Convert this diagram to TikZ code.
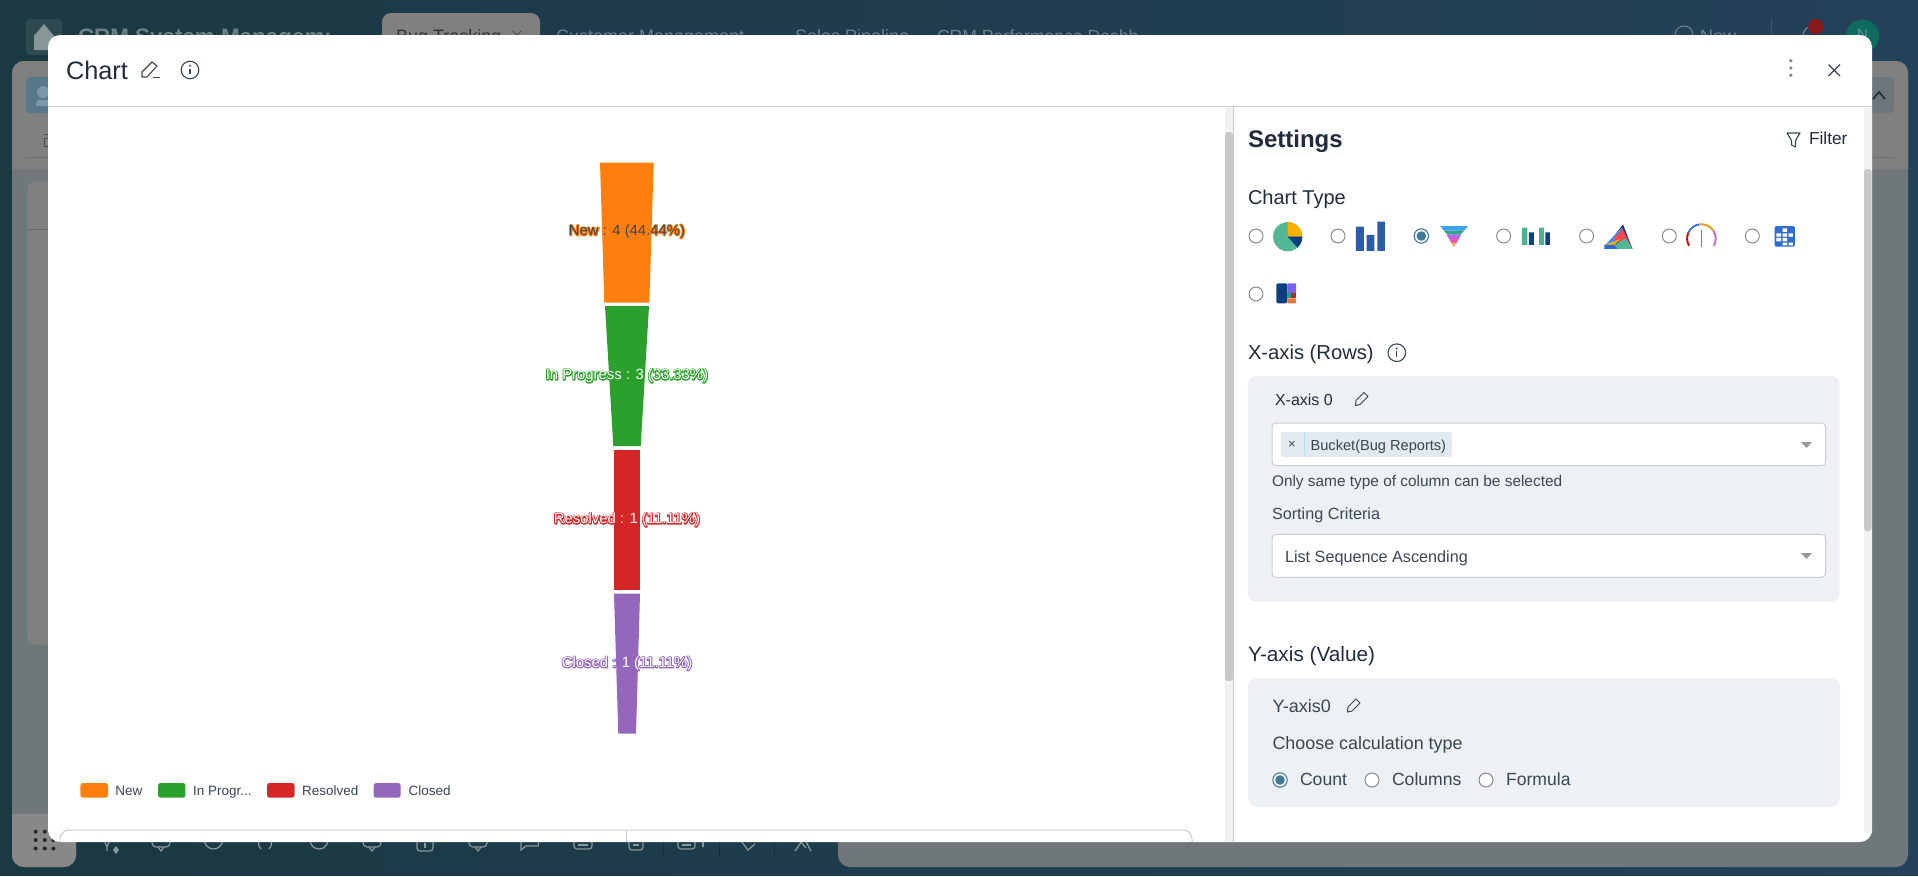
\documentclass[tikz,border=0pt]{standalone}
\usepackage{fontspec}
\setmainfont{Liberation Sans}
\definecolor{ink}{HTML}{212C3E}
\definecolor{body}{HTML}{3B4654}
\definecolor{slate}{HTML}{6F777A}
\definecolor{dimg}{HTML}{808080}
\definecolor{dimh}{HTML}{888888}
\definecolor{lineg}{HTML}{CCCCCC}
\definecolor{boxbg}{HTML}{EEF1F4}
\definecolor{oran}{HTML}{FF7F0E}
\definecolor{gree}{HTML}{2CA02C}
\definecolor{redd}{HTML}{D62728}
\definecolor{purp}{HTML}{9467BD}
\definecolor{radio}{HTML}{3E7A9A}
\definecolor{tool}{HTML}{8A979B}
\definecolor{navy}{HTML}{0B3F80}
\definecolor{bgl}{HTML}{1A3943}
\definecolor{bgr}{HTML}{24415A}
\definecolor{homebox}{HTML}{2F4951}
\definecolor{homeic}{HTML}{879696}
\definecolor{titlec}{HTML}{6E8086}
\definecolor{tabc}{HTML}{69828C}
\definecolor{newc}{HTML}{6E808C}
\definecolor{divc}{HTML}{3C5569}
\definecolor{bellc}{HTML}{7D8C96}
\definecolor{dotred}{HTML}{8A1A1A}
\definecolor{avat}{HTML}{0F6B5E}
\definecolor{avatt}{HTML}{5A96A0}
\definecolor{userbox}{HTML}{56788A}
\definecolor{useric}{HTML}{7D96A5}
\definecolor{rule}{HTML}{6E6E6E}
\definecolor{rulec}{HTML}{696969}
\definecolor{cardl}{HTML}{73787A}
\definecolor{rbox}{HTML}{6D767A}
\definecolor{chev}{HTML}{192D37}
\definecolor{sep}{HTML}{142D37}
\definecolor{track}{HTML}{F1F1F1}
\definecolor{thumb}{HTML}{C8C8C8}
\definecolor{pieg}{HTML}{52B796}
\definecolor{pieo}{HTML}{FBB000}
\definecolor{barb}{HTML}{2A5CA8}
\definecolor{fa}{HTML}{3EA3F2}
\definecolor{fb}{HTML}{2EA38E}
\definecolor{fc}{HTML}{B768EA}
\definecolor{fd}{HTML}{EE5D9E}
\definecolor{fe}{HTML}{F5B16A}
\definecolor{gbg}{HTML}{4BB294}
\definecolor{ta}{HTML}{4A8DF0}
\definecolor{tb}{HTML}{F04A50}
\definecolor{tc}{HTML}{3269D7}
\definecolor{tblb}{HTML}{2F6CD3}
\definecolor{tma}{HTML}{7A5FF0}
\definecolor{tmb}{HTML}{1AA37F}
\definecolor{tmc}{HTML}{B02A2A}
\definecolor{tmd}{HTML}{E8753A}
\definecolor{ga}{HTML}{D40000}
\definecolor{gb}{HTML}{3D6FD8}
\definecolor{gc}{HTML}{EF9A1A}
\definecolor{gd}{HTML}{B86BD8}
\definecolor{ge}{HTML}{3A8FD0}
\definecolor{tagbg}{HTML}{E2E9EF}
\definecolor{tagdiv}{HTML}{BCDCF4}
\definecolor{arrowg}{HTML}{999999}
\newcommand\fs[1]{\fontsize{#1}{#1}\selectfont}
\newcommand\halo[3]{\rlap{\special{pdf:code 1 j 1 Tr 2 w #1 RG}#3\special{pdf:code 0 Tr 0.4 w}}\textcolor{#2}{#3}}
\newcommand\info[2]{\draw[body,line width=1.1pt] (#1,#2) circle (8.8);
 \fill[body] (#1,#2-4.2) circle (1.1); \draw[body,line width=1.3pt] (#1-1.3,#2-0.8) -- (#1,#2-0.8) -- (#1,#2+4);}
\newcommand\rad[2]{\draw[draw=gray,fill=white,line width=0.9pt] (#1,#2) circle (7);}
\newcommand\radon[2]{\draw[draw=radio,fill=white,line width=1.1pt] (#1,#2) circle (7.2);\fill[radio] (#1,#2) circle (4.8);}
\tikzset{
 lb/.style={anchor=base west,inner sep=0pt,outer sep=0pt},
 sel/.style={draw=lineg,fill=white,line width=1pt,rounded corners=4pt},
 card/.style={fill=boxbg,rounded corners=9pt},
 leg/.style={rounded corners=2.5pt},
 ico/.style={draw=tool,line width=1.2pt},
 fun/.style={anchor=center,inner sep=0pt,font=\fs{14.85}}
}
\begin{document}
\begin{tikzpicture}[x=1pt,y=-1pt]
\useasboundingbox (0,0) rectangle (1918,876);
% backdrop
\foreach \p in {0,5,...,95}{
 \fill[bgr!\p!bgl] ({\p*19.18},0) rectangle (1918,876);
}
% top bar
\fill[homebox,rounded corners=4pt] (26,19) rectangle (62,55);
\fill[homeic] (34,36) -- (44,24) -- (54,36) -- (54,50) -- (34,50) -- cycle;
\node[lb,text=titlec,font=\fs{22.4}\bfseries] (apptitle) at (78,44) {CRM System Managem:};
\fill[dimg,rounded corners=9pt] (382,13) rectangle (540,60);
\node[lb,text=black!80,font=\fs{18}] (tabbug) at (396,42) {Bug Tracking};
\draw[black!70,line width=1pt] (513,31) -- (517,35) -- (521,31);
\node[lb,text=tabc,font=\fs{18}] (tabcust) at (556,42) {Customer Management};
\node[lb,text=tabc,font=\fs{18}] (tabsales) at (795,42) {Sales Pipeline};
\node[lb,text=tabc,font=\fs{17.6}] (tabcrm) at (937,42) {CRM Performance Dashb};
\draw[newc,line width=1.1pt] (1684,35) circle (9);
\node[lb,text=newc,font=\fs{18}] (newbtn) at (1700,42) {New};
\draw[divc,line width=0.8pt] (1771,19) -- (1771,38);
\draw[bellc,line width=1.1pt] (1802,38) .. controls (1804,28) and (1808,26) .. (1814,26);
\fill[dotred] (1815.7,26.5) circle (7.5);
\fill[avat] (1862.5,36) circle (16.5);
\node[anchor=center,inner sep=0pt,text=avatt,font=\fs{15}] (avatar) at (1862.5,34) {N};
% dimmed page
\fill[slate,rounded corners=12pt] (12,61) rectangle (76,867);
\fill[slate,rounded corners=12pt] (838,61) rectangle (1908,867);
\fill[dimg] (12,169) [rounded corners=12pt] -- (12,61) -- (76,61) [sharp corners] -- (76,169) -- cycle;
\fill[dimg] (1840,169) -- (1840,61) [rounded corners=12pt] -- (1908,61) [sharp corners] -- (1908,169) -- cycle;
\fill[dimh] (12,814) -- (76,814) [rounded corners=12pt] -- (76,867) -- (12,867) [sharp corners] -- cycle;
\fill[userbox,rounded corners=4pt] (26,77) rectangle (60,113);
\fill[useric] (43,92) circle (6);
\fill[useric] (36,106) -- (37,100) -- (49,100) -- (50,106) -- cycle;
\draw[rule,line width=0.8pt] (26,157) -- (60,157);
\draw[black!70,line width=0.8pt] (44,134) -- (52,134) (44,138) rectangle (52,146);
\fill[dimg,rounded corners=8pt] (27,181) rectangle (80,645);
\draw[rulec,line width=0.8pt] (27,229) -- (60,229);
\draw[cardl,line width=0.6pt,rounded corners=8pt] (27,181) rectangle (80,645);
\fill[rbox,rounded corners=4pt] (1860,77) rectangle (1894,113);
\draw[chev,line width=1.6pt] (1873,99) -- (1879,92) -- (1885,99);
\draw[rule,line width=0.8pt] (1860,157) -- (1894,157);
% toolbar remnants
\fill[black!85] (35.6,831.7) circle (2) (44.8,831.7) circle (2) (35.6,840) circle (2) (44.8,840) circle (2) (53.4,840) circle (2) (35.6,848.5) circle (2) (44.8,848.5) circle (2) (53.4,848.5) circle (2);
\draw[ico] (102,835) -- (107,847) -- (112,835) (107,847) -- (107,851);
\fill[tool] (116,846) -- (119,850) -- (116,854) -- (113,850) -- cycle;
\draw[ico,rounded corners=4pt] (152,832) rectangle (170,847);
\draw[ico] (158,847) -- (161,851) -- (164,847);
\draw[ico] (213.5,840) circle (9);
\draw[ico] (259,840) .. controls (258,845) and (259,847) .. (261,849) (271,840) .. controls (272,845) and (271,847) .. (269,849);
\draw[ico] (319,840) circle (9);
\draw[ico,rounded corners=4pt] (363,832) rectangle (381,847);
\draw[ico] (369,847) -- (372,851) -- (375,847);
\draw[ico,rounded corners=3pt] (417,830) rectangle (433,851);
\draw[ico] (425,843) -- (425,848);
\draw[ico,rounded corners=4pt] (469,832) rectangle (487,847);
\draw[ico] (475,847) -- (478,851) -- (481,847);
\draw[ico] (521,850) -- (521,832) -- (540,832) -- (538,846) -- (526,846) -- cycle;
\draw[ico,rounded corners=3pt] (574,832) rectangle (592,849);
\draw[ico] (578,845) -- (588,845);
\draw[ico,rounded corners=3pt] (629,832) rectangle (643,850);
\draw[ico] (633,845) -- (639,845);
\draw[ico,rounded corners=3pt] (678,832) rectangle (695,849);
\draw[ico] (682,845) -- (691,845) (703,842) -- (703,847);
\draw[ico] (739,838) -- (748,850) -- (755,844);
\draw[ico] (795,851) -- (804,838) -- (811,851) (799,840) -- (806,848);
\draw[sep,line width=1pt] (663,842) -- (663,857) (719,842) -- (719,857) (774,842) -- (774,857);
% modal
\fill[white,rounded corners=12pt] (48,35) rectangle (1872,842);
\draw[lineg,line width=1.2pt] (48,106.7) -- (1872,106.7);
\node[lb,text=ink,font=\fs{25.3}] (charttitle) at (66,79) {Chart};
\draw[body,line width=1.1pt,line join=round] (142,77) -- (142,72) -- (152,62) -- (157,66) -- (147,77) -- cycle;
\draw[body,line width=1.1pt] (153,77.5) -- (160,77.5);
\info{190}{70}
\fill[gray] (1790.8,60.7) circle (1.8) (1790.8,68) circle (1.8) (1790.8,75.3) circle (1.8);
\draw[body,line width=1.3pt] (1828.5,64.5) -- (1840,76) (1840,64.5) -- (1828.5,76);
% scrollbars
\fill[track] (1225,107.5) rectangle (1233,842);
\fill[thumb,rounded corners=3pt] (1225,132) rectangle (1233,681);
\draw[lineg,line width=1pt] (1233.5,107) -- (1233.5,842);
\fill[track] (1864,107.5) rectangle (1872,833);
\fill[thumb,rounded corners=3pt] (1864,169) rectangle (1871.5,531);
% funnel
\fill[oran] (600,162.7) -- (653.7,162.7) -- (649.3,302.7) -- (604.3,302.7) -- cycle;
\fill[gree] (605,306) -- (649,306) -- (640.7,446) -- (613.3,446) -- cycle;
\fill[redd] (613.7,450) rectangle (640.3,590);
\fill[purp] (614,593.7) -- (640,593.7) -- (636,733.7) -- (618.3,733.7) -- cycle;
\node[fun] (lnew) at (627,231.5) {\halo{1 0.5 0.055}{body}{New : 4 (44.44\%)}};
\node[fun] (lprog) at (627,375.8) {\halo{0.173 0.627 0.173}{white}{In Progress : 3 (33.33\%)}};
\node[fun] (lres) at (627,519.8) {\halo{0.84 0.153 0.157}{white}{Resolved : 1 (11.11\%)}};
\node[fun] (lclo) at (627,663.5) {\halo{0.58 0.404 0.74}{white}{Closed : 1 (11.11\%)}};
% legend
\fill[oran,leg] (80.4,783) rectangle (108,797.7);
\fill[gree,leg] (158,783) rectangle (185.4,797.7);
\fill[redd,leg] (267,783) rectangle (294.5,797.7);
\fill[purp,leg] (373.7,783) rectangle (400.7,797.7);
\node[lb,text=body,font=\fs{13.5}] (lg1) at (115.4,795.3) {New};
\node[lb,text=body,font=\fs{13.5}] (lg2) at (193,795.3) {In Progr...};
\node[lb,text=body,font=\fs{13.5}] (lg3) at (302,795.3) {Resolved};
\node[lb,text=body,font=\fs{13.5}] (lg4) at (408.7,795.3) {Closed};
% cut-off box under chart
\begin{scope}
\clip (48,825) rectangle (1225,841.5);
\draw[lineg,line width=1pt,rounded corners=9pt] (60,830) rectangle (1192,880);
\draw[lineg,line width=0.8pt] (626.5,830) -- (626.5,842);
\end{scope}
% settings
\node[lb,text=ink,font=\fs{24}\bfseries] (settings) at (1248,147) {Settings};
\draw[body,line width=1.1pt,line join=round] (1787,133) -- (1800,133) -- (1795.5,140.5) -- (1795.5,147) -- (1791.5,145) -- (1791.5,140.5) -- cycle;
\node[lb,text=ink,font=\fs{17.3}] (filter) at (1809,144) {Filter};
\node[lb,text=ink,font=\fs{20}] (charttype) at (1248,204) {Chart Type};
% radios row
\rad{1256}{236}\rad{1338}{236}\radon{1421.3}{236}\rad{1503.6}{236}\rad{1586.6}{236}\rad{1669.3}{236}\rad{1752.3}{236}\rad{1256}{294}
% pie icon
\begin{scope}[shift={(1287.7,236.7)}]
\fill[pieg] (0,0) circle (14.6);
\fill[pieo] (0,0) -- (-90:14.6) arc (-90:0:14.6) -- cycle;
\fill[navy] (0,0) -- (0:14.6) arc (0:48:14.6) -- cycle;
\end{scope}
% chart icons, coordinates read off a crop
\begin{scope}[shift={(1220,170)},x=0.3827pt,y=-0.3333pt]
\fill[barb] (355,170) rectangle (376,243) (383,195) rectangle (403,243) (411,155) rectangle (431,243);
\fill[fa] (575,168) -- (648,168) -- (638,182) -- (585,182) -- cycle;
\fill[fb] (585,182) -- (638,182) -- (628,194) -- (594,194) -- cycle;
\fill[fc] (592,194) -- (630,194) -- (624,207) -- (599,207) -- cycle;
\fill[fd] (599,207) -- (624,207) -- (618,219) -- (604,219) -- cycle;
\fill[fe] (604,219) -- (618,219) -- (611,232) -- cycle;
\fill[gbg] (789,173) rectangle (803,225) (834,173) rectangle (847,225);
\fill[navy] (807,187) rectangle (820,225) (850,187) rectangle (862,225);
\fill[navy] (1004,237) -- (1053,163) -- (1078,237) -- cycle;
\fill[ta] (1004,228) -- (1050,172) -- (1058,205) -- cycle;
\fill[tb] (1028,207) -- (1052,176) -- (1074,228) -- (1040,214) -- cycle;
\fill[pieo] (1006,225) -- (1046,207) -- (1030,225) -- cycle;
\fill[tc] (1004,225) -- (1035,225) -- (1040,237) -- (1004,237) -- cycle;
\fill[pieg] (1030,225) -- (1060,205) -- (1078,237) -- (1040,237) -- cycle;
\fill[tblb,rounded corners=1.5pt] (1449,168) rectangle (1502,230);
\fill[white] (1470,175) rectangle (1482,186) (1470,190) rectangle (1482,200) (1486,190) rectangle (1497,200) (1454,204) rectangle (1466,214) (1470,204) rectangle (1482,214) (1454,190) rectangle (1466,200) (1470,218) rectangle (1482,226) (1486,218) rectangle (1497,226);
\fill[navy,rounded corners=1.5pt] (147,340) rectangle (176,400);
\fill[tma,rounded corners=1pt] (176,340) rectangle (199,370);
\fill[tmb] (176,370) rectangle (186,385);
\fill[tmc] (186,370) rectangle (199,385);
\fill[tmd,rounded corners=1pt] (176,385) rectangle (199,400);
\end{scope}
% gauge icon
\begin{scope}[shift={(1701.4,238.5)},line width=1.9pt]
\draw[ga] (150:14.3) arc (150:205:14.3);
\draw[gb] (205:14.3) arc (205:262:14.3);
\draw[gc] (262:14.3) arc (262:325:14.3);
\draw[gd] (325:14.3) arc (325:390:14.3);
\draw[ge,line width=0.8pt] (0,-9) -- (0,8);
\end{scope}
% x axis
\node[lb,text=ink,font=\fs{20.2}] (xaxishead) at (1248,359) {X-axis (Rows)};
\info{1396.8}{352.7}
\fill[card] (1247.8,376) rectangle (1839.6,602);
\node[lb,text=ink,font=\fs{16}] (xaxis0) at (1275,405) {X-axis 0};
\draw[body,line width=1pt,line join=round] (1355.5,405.5) -- (1356,400.5) -- (1364,392.5) -- (1368,396.5) -- (1360,404.5) -- cycle;
\draw[sel] (1272,423) rectangle (1825.7,465.7);
\fill[tagbg,rounded corners=2pt] (1280.8,432) rectangle (1451.8,457);
\draw[tagdiv,line width=0.8pt] (1304.5,432) -- (1304.5,457);
\node[anchor=center,inner sep=0pt,text=body,font=\fs{13}] (tagx) at (1292,445) {×};
\node[lb,text=body,font=\fs{14.6}] (tagtext) at (1310.6,450) {Bucket(Bug Reports)};
\fill[arrowg] (1801,442) -- (1812,442) -- (1806.5,448) -- cycle;
\node[lb,text=body,font=\fs{15.4}] (hint) at (1272,486) {Only same type of column can be selected};
\node[lb,text=body,font=\fs{16.2}] (sorting) at (1272,519) {Sorting Criteria};
\draw[sel] (1272,534.3) rectangle (1825.7,577.3);
\node[lb,text=body,font=\fs{16.2}] (sortval) at (1285,562) {List Sequence Ascending};
\fill[arrowg] (1801,553) -- (1812,553) -- (1806.5,559) -- cycle;
% y axis
\node[lb,text=ink,font=\fs{20.8}] (yaxishead) at (1248,661) {Y-axis (Value)};
\fill[card] (1248,678) rectangle (1840,807);
\node[lb,text=body,font=\fs{18}] (yaxis0) at (1272.5,712) {Y-axis0};
\draw[body,line width=1pt,line join=round] (1347.5,712) -- (1348,707) -- (1356,699) -- (1360,703) -- (1352,711) -- cycle;
\node[lb,text=body,font=\fs{17.9}] (choose) at (1272.5,749) {Choose calculation type};
\radon{1280}{780}\rad{1372}{780}\rad{1486}{780}
\node[lb,text=body,font=\fs{17.6}] (rcount) at (1300,785.5) {Count};
\node[lb,text=body,font=\fs{17.6}] (rcols) at (1392,785.5) {Columns};
\node[lb,text=body,font=\fs{17.6}] (rform) at (1506,785.5) {Formula};
\end{tikzpicture}
\end{document}
